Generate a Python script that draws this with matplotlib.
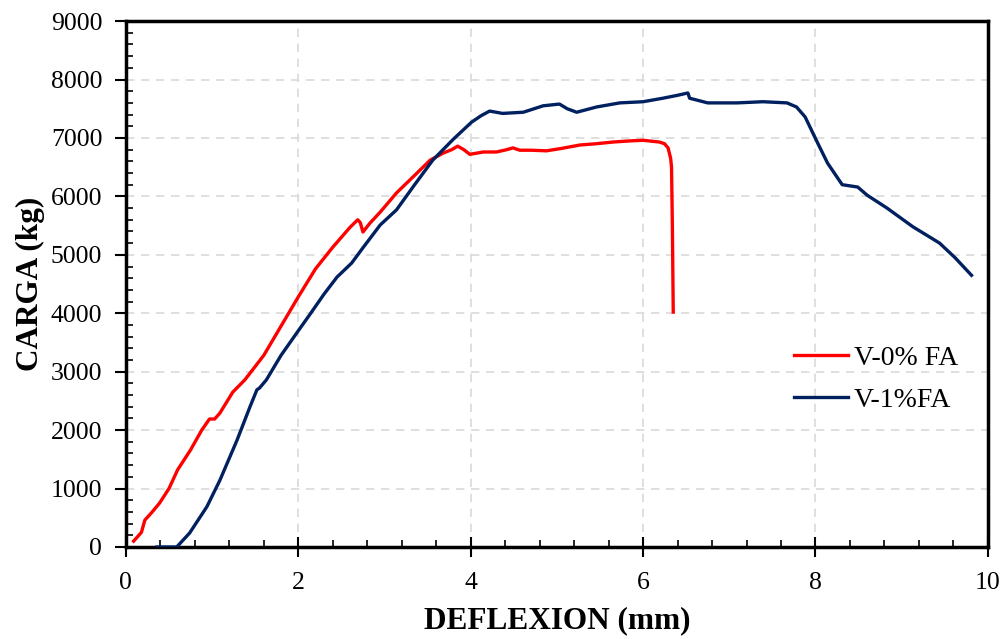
"""Curva carga-deflexión: V-0% FA vs V-1%FA."""

import matplotlib
matplotlib.use("Agg")

import matplotlib.pyplot as plt
from matplotlib.ticker import MultipleLocator

# ── Datos ─────────────────────────────────────────────────

defl_v0 = [0.09, 0.18, 0.22, 0.30, 0.39, 0.50, 0.60, 0.75, 0.88, 0.97, 1.03, 1.09,
           1.24, 1.38, 1.60, 1.80, 2.00, 2.20, 2.40, 2.60, 2.69, 2.72, 2.75, 2.83,
           2.95, 3.14, 3.35, 3.53, 3.68, 3.78, 3.85, 3.92, 3.99, 4.15, 4.30, 4.42,
           4.49, 4.57, 4.70, 4.88, 5.05, 5.27, 5.45, 5.65, 5.85, 6.00, 6.19, 6.25,
           6.29, 6.32, 6.33, 6.34, 6.35]
carga_v0 = [100, 250, 460, 590, 750, 1000, 1320, 1660, 2000, 2190, 2190, 2290,
            2650, 2860, 3280, 3780, 4280, 4760, 5130, 5470, 5600, 5550, 5390, 5540,
            5730, 6060, 6360, 6620, 6740, 6800, 6860, 6800, 6720, 6760, 6760, 6800,
            6830, 6790, 6790, 6780, 6820, 6880, 6900, 6930, 6950, 6960, 6930, 6900,
            6830, 6650, 6500, 5500, 4020]

defl_v1 = [0.36, 0.59, 0.74, 0.94, 1.09, 1.29, 1.44, 1.52, 1.55, 1.63, 1.80, 2.00,
           2.13, 2.30, 2.45, 2.62, 2.75, 2.95, 3.14, 3.35, 3.56, 3.80, 4.01, 4.12,
           4.22, 4.37, 4.61, 4.84, 5.03, 5.12, 5.23, 5.46, 5.73, 6.00, 6.23, 6.40,
           6.52, 6.54, 6.75, 7.09, 7.39, 7.67, 7.78, 7.88, 8.02, 8.14, 8.31, 8.49,
           8.60, 8.83, 9.13, 9.33, 9.44, 9.62, 9.81]
carga_v1 = [0, 0, 240, 690, 1140, 1830, 2400, 2690, 2720, 2860, 3280, 3700,
            3970, 4330, 4620, 4860, 5120, 5510, 5770, 6200, 6620, 6980, 7270, 7380,
            7460, 7420, 7440, 7550, 7580, 7500, 7440, 7530, 7600, 7620, 7680, 7730,
            7770, 7680, 7600, 7600, 7620, 7600, 7530, 7360, 6930, 6570, 6200, 6160,
            6020, 5800, 5480, 5300, 5200, 4950, 4650]

# ── Estilo ────────────────────────────────────────────────

plt.rcParams["font.family"] = ["Liberation Serif", "DejaVu Serif"]

fig = plt.figure(figsize=(10.07, 6.39), dpi=100)
ax = fig.add_axes([0.125, 0.144, 0.856, 0.823])

ax.plot(defl_v0, carga_v0, color="#FF0000", linewidth=2.4, label="V-0% FA", zorder=3)
ax.plot(defl_v1, carga_v1, color="#002060", linewidth=2.4, label="V-1%FA", zorder=3)

ax.set_xlim(0, 10)
ax.set_ylim(0, 9000)
ax.xaxis.set_major_locator(MultipleLocator(2))
ax.xaxis.set_minor_locator(MultipleLocator(0.4))
ax.yaxis.set_major_locator(MultipleLocator(1000))
ax.yaxis.set_minor_locator(MultipleLocator(200))

ax.grid(True, which="major", color="#D9D9D9", linestyle=(0, (5, 4)), linewidth=1.2, zorder=0)

for side in ("left", "right", "top", "bottom"):
    ax.spines[side].set_linewidth(2.5)
    ax.spines[side].set_color("black")

ax.tick_params(axis="x", which="major", direction="inout", length=14, width=1.5,
               labelsize=18.5, pad=11)
ax.tick_params(axis="y", which="major", direction="out", length=8, width=1.5,
               labelsize=18.5, pad=9)
ax.tick_params(which="minor", direction="in", length=5, width=1.2)

ax.set_xlabel("DEFLEXION (mm)", fontsize=22.5, fontweight="bold", labelpad=9)
ax.set_ylabel("CARGA (kg)", fontsize=22.5, fontweight="bold", labelpad=4)

ax.legend(loc="upper left", bbox_to_anchor=(0.759, 0.41), frameon=False,
          fontsize=20, borderpad=0, handlelength=1.95, handletextpad=0.2,
          labelspacing=0.6)

fig.savefig("out.png", dpi=100)
